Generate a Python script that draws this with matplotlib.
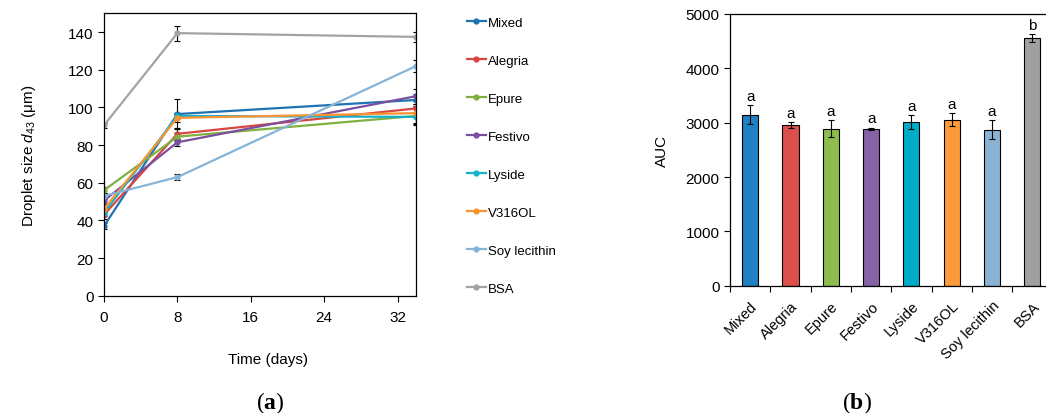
import numpy as np
import matplotlib
matplotlib.use("Agg")
import matplotlib.pyplot as plt

plt.rcParams['font.family'] = ['Liberation Sans', 'DejaVu Sans']
plt.rcParams['mathtext.fontset'] = 'custom'
plt.rcParams['mathtext.rm'] = 'Liberation Sans'
plt.rcParams['mathtext.it'] = 'Liberation Sans:italic'
plt.rcParams['mathtext.bf'] = 'Liberation Serif:bold'

# ---- data ----
names = ["Mixed", "Alegria", "Epure", "Festivo", "Lyside", "V316OL", "Soy lecithin", "BSA"]
days = [0, 8, 34]

mixed = [37, 96.5, 104]
alegria = [43, 86, 99.5]
epure = [56, 84.5, 95.5]
festivo = [50.5, 81.5, 106]
lyside = [44, 95.5, 95]
v316ol = [46, 94.5, 97]
soy = [53, 63, 122]
bsa = [90.5, 139.5, 137.5]

mixed_err = [1.5, 8, 3]
alegria_err = [2, 3, 4]
epure_err = [1.5, 2, 5]
festivo_err = [2, 2, 4]
lyside_err = [1.5, 1.5, 4]
v316ol_err = [1.5, 2, 5]
soy_err = [1.5, 1.5, 3]
bsa_err = [1.5, 4, 2.5]

auc = [3150, 2960, 2890, 2890, 3010, 3050, 2870, 4560]
auc_err = [170, 50, 150, 20, 130, 120, 170, 70]
auc_letters = ["a", "a", "a", "a", "a", "a", "a", "b"]

line_colors = ["#1f73b3", "#d9453f", "#7fb041", "#7a4f9f", "#13b2c9", "#fb9331", "#86b4d6", "#a3a3a3"]
bar_colors = ["#2181c2", "#dc4f4c", "#8cbd4e", "#8762a6", "#00adc9", "#fd9a3c", "#89b2d3", "#a0a0a0"]

series = [mixed, alegria, epure, festivo, lyside, v316ol, soy, bsa]
errs = [mixed_err, alegria_err, epure_err, festivo_err, lyside_err, v316ol_err, soy_err, bsa_err]

fig = plt.figure(figsize=(10.46, 4.14), dpi=100)

# ---- panel (a) ----
ax = fig.add_axes([0.0994, 0.2833, 0.2983, 0.682])
for name, vals, e, c in zip(names, series, errs, line_colors):
    ax.errorbar(days, vals, yerr=e, color=c, marker='o', ms=3.5, lw=1.6,
                ecolor='black', elinewidth=0.8, capsize=2, capthick=0.8, label=name)
ax.set_xlim(0, 34)
ax.set_ylim(0, 150)
ax.set_xticks([0, 8, 16, 24, 32])
ax.set_yticks(range(0, 141, 20))
ax.tick_params(direction='out', length=4, width=0.8, labelsize=11)
ax.tick_params(axis='x', pad=6)
for s in ax.spines.values():
    s.set_linewidth(0.9)
ax.set_xlabel("Time (days)", fontsize=11)
ax.xaxis.set_label_coords(0.527, -0.2)
ax.set_ylabel(r"Droplet size $d_{43}$ ($\mathrm{\mu}$m)", fontsize=11, labelpad=22)

handles, labels = ax.get_legend_handles_labels()
handles = [h[0] for h in handles]
fig.legend(handles, labels, loc='upper left', bbox_to_anchor=(0.441, 0.97),
           frameon=False, fontsize=9.5, handlelength=1.45, handletextpad=0.15,
           labelspacing=1.95, borderaxespad=0)

fig.text(0.258, 0.012, r"($\mathbf{a}$)", fontsize=17, family='Liberation Serif', ha='center')

# ---- panel (b) ----
bx = fig.add_axes([0.698, 0.3075, 0.302, 0.6563])
x = np.arange(len(names))
bx.bar(x, auc, width=0.4, color=bar_colors, edgecolor='black', linewidth=0.8,
       yerr=auc_err, error_kw=dict(ecolor='black', elinewidth=0.8, capsize=2, capthick=0.8))
for xi, v, e, t in zip(x, auc, auc_err, auc_letters):
    bx.text(xi, v + e + 40, t, ha='center', va='bottom', fontsize=11)
bx.set_xlim(-0.5, 7.34)
bx.set_ylim(0, 5000)
bx.set_yticks(range(0, 5001, 1000))
bx.set_xticks(x)
bx.set_xticklabels(names, rotation=45, ha='right', rotation_mode='anchor', fontsize=10.5)
bx.set_xticks(np.arange(-0.5, 7, 1), minor=True)
bx.tick_params(axis='x', which='major', length=0, pad=9)
bx.tick_params(axis='x', which='minor', direction='out', length=4, width=0.8)
bx.tick_params(axis='y', direction='out', length=4, width=0.8, labelsize=11)
bx.spines['right'].set_visible(False)
for s in bx.spines.values():
    s.set_linewidth(0.9)
bx.set_ylabel("AUC", fontsize=11, labelpad=12)

fig.text(0.819, 0.012, r"($\mathbf{b}$)", fontsize=17, family='Liberation Serif', ha='center')

fig.savefig("out.png", dpi=100)
